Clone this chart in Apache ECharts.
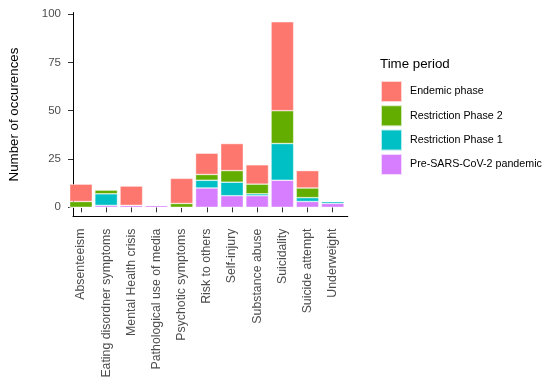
<!DOCTYPE html>
<html>
<head>
<meta charset="utf-8">
<script src="https://cdn.jsdelivr.net/npm/echarts@6/dist/echarts.min.js"></script>
<style>html,body{margin:0;padding:0;background:#fff}#c{width:550px;height:384px}</style>
</head>
<body>
<div id="c"></div>
<script>
const categories = ["Absenteeism","Eating disordner symptoms","Mental Health crisis","Pathological use of media","Psychotic symptoms","Risk to others","Self-injury","Substance abuse","Suicidality","Suicide attempt","Underweight"];
const prePandemic   = [0, 1, 1, 1, 0, 10, 6, 6, 14, 3, 2];
const restriction1  = [0, 6, 0, 0, 0, 4, 7, 1, 19, 2, 1];
const restriction2  = [3, 2, 0, 0, 2, 3, 6, 5, 17, 5, 0];
const endemic       = [9, 0, 10, 0, 13, 11, 14, 10, 46, 9, 0];
const yTicks = [0, 25, 50, 75, 100];
const seriesNames = ["Pre-SARS-CoV-2 pandemic","Restriction Phase 1","Restriction Phase 2","Endemic phase"];
const seriesColors = ["#D67EFF","#00C0C5","#63AD00","#FE776E"];
const seriesData = [prePandemic, restriction1, restriction2, endemic];

const FONT = 'Liberation Sans, Arial, sans-serif';
const chart = echarts.init(document.getElementById('c'), null, {renderer:'canvas'});
const series = seriesData.map((arr, k) => ({
  name: seriesNames[k],
  type: 'bar',
  stack: 'total',
  xAxisIndex: 0, yAxisIndex: 0,
  barWidth: 22.6,
  itemStyle: {color: seriesColors[k], borderColor: 'rgba(255,255,255,0.7)', borderWidth: 0.6},
  data: arr,
  silent: true
}));

chart.setOption({
  animation: false,
  title: {
    text: 'Time period', left: 380, top: 58, padding: 0,
    textStyle: {fontFamily: FONT, fontSize: 13.3, fontWeight: 'normal', color: '#000'}
  },
  legend: {
    orient: 'vertical', left: 380, top: 80, padding: 0,
    itemWidth: 21, itemHeight: 21, itemGap: 1.3,
    icon: 'rect',
    data: ["Endemic phase","Restriction Phase 2","Restriction Phase 1","Pre-SARS-CoV-2 pandemic"],
    textStyle: {fontFamily: FONT, fontSize: 10.7, color: '#000', padding: [0,0,0,3]},
    selectedMode: false
  },
  grid: [
    {left: 68.4, right: 204.7, top: 12.5, bottom: 167.4, containLabel: false},
    {left: 66, right: 202.2, top: 12.5, bottom: 167.4, containLabel: false}
  ],
  xAxis: [
    {
      type: 'category', gridIndex: 0, data: categories, boundaryGap: true,
      axisLine: {show: false},
      axisTick: {show: true, alignWithLabel: true, interval: 0, length: 5, lineStyle: {color: '#333', width: 1}},
      axisLabel: {interval: 0, rotate: 90, margin: 12, fontFamily: FONT, fontSize: 12.3, color: '#4d4d4d'}
    },
    {
      type: 'value', gridIndex: 1, min: 0, max: 1,
      splitLine: {show: false}, axisTick: {show: false}, axisLabel: {show: false},
      axisLine: {show: true, onZero: false, lineStyle: {color: '#000', width: 1}}
    }
  ],
  yAxis: [
    {
      type: 'value', gridIndex: 0, min: -4.8, max: 100.8,
      show: false, splitLine: {show: false}
    },
    {
      type: 'value', gridIndex: 1, min: -4.8, max: 100.8,
      name: 'Number of occurences', nameLocation: 'middle', nameGap: 52, nameRotate: 90,
      nameTextStyle: {fontFamily: FONT, fontSize: 13.3, color: '#000'},
      splitLine: {show: false},
      axisLine: {show: true, onZero: false, lineStyle: {color: '#000', width: 1}},
      axisTick: {show: true, length: 5, lineStyle: {color: '#333', width: 1}, customValues: yTicks},
      axisLabel: {customValues: yTicks, margin: 12, fontFamily: FONT, fontSize: 11.5, color: '#4d4d4d'}
    }
  ],
  series: series
});
</script>
</body>
</html>
